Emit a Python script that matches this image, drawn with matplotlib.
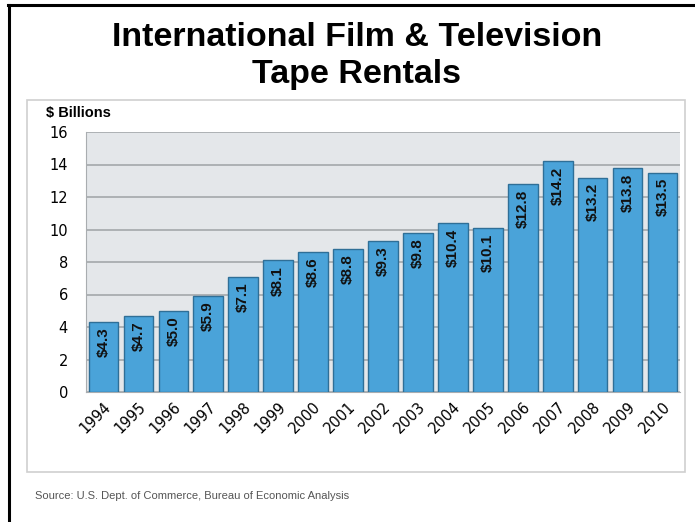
from matplotlib import pyplot as plt
from matplotlib.patches import Rectangle
from matplotlib.lines import Line2D

years = ['1994', '1995', '1996', '1997', '1998', '1999', '2000', '2001', '2002',
         '2003', '2004', '2005', '2006', '2007', '2008', '2009', '2010']
rentals = [4.3, 4.7, 5.0, 5.9, 7.1, 8.1, 8.6, 8.8, 9.3,
           9.8, 10.4, 10.1, 12.8, 14.2, 13.2, 13.8, 13.5]
bar_labels = ['$' + format(v, '.1f') for v in rentals]
y_ticks = [0, 2, 4, 6, 8, 10, 12, 14, 16]

fig = plt.figure(figsize=(6.95, 5.22), dpi=100)
fig.patch.set_facecolor('white')

# black slide frame (top + left)
fig.add_artist(Line2D([8/695, 1.0], [1-5/522, 1-5/522], color='black', lw=2.2))
fig.add_artist(Line2D([9/695, 9/695], [0, 1-5/522], color='black', lw=2.2))

# light grey box around the chart
fig.add_artist(Rectangle((27/695, 1-472/522), 658/695, 372/522, transform=fig.transFigure,
                         facecolor='white', edgecolor='#cfcfcf', lw=1.2, zorder=0))

fig.text(357/695, 1-56/522, 'International Film & Television\nTape Rentals',
         ha='center', va='center', fontsize=24.5, fontweight='bold',
         family='Liberation Sans', linespacing=1.25)
fig.text(46/695, 1-113/522, '$ Billions', ha='left', va='center', fontsize=10.5,
         fontweight='bold', family='Liberation Sans')
fig.text(35/695, 1-496/522, 'Source: U.S. Dept. of Commerce, Bureau of Economic Analysis',
         ha='left', va='center', fontsize=8, color='#555555', family='Liberation Sans')

ax = fig.add_axes([86/695, 1-392/522, 594/695, 260/522])
ax.set_facecolor('#e4e7ea')
x = range(len(years))
ax.bar(x, rentals, width=0.85, color='#4aa3d9', edgecolor='#2f6f97', lw=1.0, zorder=3)
for i, (v, lab) in enumerate(zip(rentals, bar_labels)):
    ax.annotate(lab, (i, v), xytext=(0, -4), textcoords='offset points',
                ha='center', va='top', rotation=90, fontsize=11, fontweight='bold',
                family='Liberation Sans', color='#111111', zorder=4)

ax.set_xlim(-0.5, len(years) - 0.5)
ax.set_ylim(0, 16)
ax.set_yticks(y_ticks)
ax.set_xticks(list(x))
ax.set_xticklabels(years, rotation=45, ha='right', rotation_mode='anchor', fontsize=10.5)
ax.tick_params(axis='y', labelsize=10.5, length=0, pad=13)
ax.tick_params(axis='x', length=0, pad=5)
ax.grid(axis='y', color='#a9adb0', lw=1.3, zorder=1)
for s in ['top', 'right']:
    ax.spines[s].set_visible(False)
ax.spines['left'].set_color('#a9adb0')
ax.spines['bottom'].set_color('#a9adb0')

fig.savefig('out.png', dpi=100)
